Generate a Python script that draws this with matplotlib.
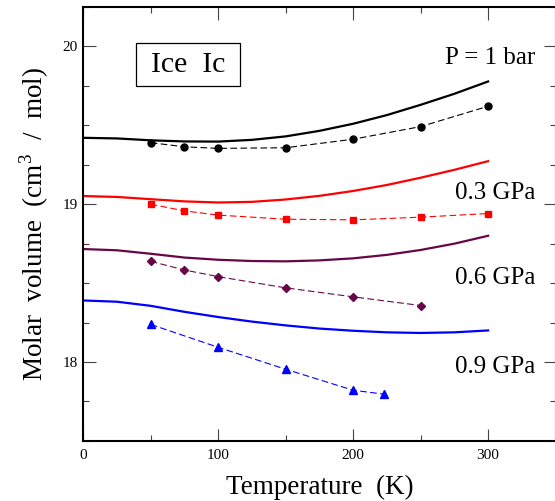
import matplotlib
matplotlib.use("Agg")
import matplotlib.pyplot as plt
import matplotlib.patches as patches
from matplotlib.ticker import MultipleLocator

plt.rcParams['font.family'] = ['Liberation Serif', 'DejaVu Serif']
plt.rcParams['mathtext.fontset'] = 'custom'
plt.rcParams['mathtext.rm'] = 'Liberation Serif'

# solid curves (model), read every 25 K
T_curve = [0, 25, 50, 75, 100, 125, 150, 175, 200, 225, 250, 275, 300]
v_1bar = [19.421, 19.417, 19.405, 19.398, 19.397, 19.408, 19.430, 19.465, 19.510, 19.565, 19.630, 19.700, 19.778]
v_03 = [19.052, 19.046, 19.032, 19.018, 19.011, 19.015, 19.030, 19.053, 19.084, 19.122, 19.168, 19.218, 19.273]
v_06 = [18.716, 18.708, 18.686, 18.662, 18.648, 18.640, 18.638, 18.644, 18.657, 18.679, 18.710, 18.750, 18.800]
v_09 = [18.390, 18.382, 18.356, 18.318, 18.285, 18.256, 18.232, 18.212, 18.198, 18.188, 18.184, 18.188, 18.200]

# dashed series with symbols
T_1bar = [50, 75, 100, 150, 200, 250, 300]
d_1bar = [19.390, 19.364, 19.354, 19.358, 19.412, 19.492, 19.621]
T_03 = [50, 75, 100, 150, 200, 250, 300]
d_03 = [19.000, 18.958, 18.931, 18.905, 18.901, 18.918, 18.941]
T_06 = [50, 75, 100, 150, 200, 250]
d_06 = [18.638, 18.583, 18.541, 18.470, 18.413, 18.358]
T_09 = [50, 100, 150, 200, 223]
d_09 = [18.238, 18.093, 17.954, 17.821, 17.796]

labels = ["P = 1 bar", "0.3 GPa", "0.6 GPa", "0.9 GPa"]
label_y = [19.93, 19.07, 18.53, 17.97]

purple = '#670748'
colors = ['black', 'red', purple, 'blue']
markers = ['o', 's', 'D', '^']
msizes = [5, 4.8, 3.8, 5.2]

fig = plt.figure(figsize=(5.55, 5.01), dpi=100)
ax = fig.add_axes([0.150, 0.120, 0.851, 0.866])

curves = [v_1bar, v_03, v_06, v_09]
sims = [(T_1bar, d_1bar), (T_03, d_03), (T_06, d_06), (T_09, d_09)]
for c, v, (ts, ds), m, ms in zip(colors, curves, sims, markers, msizes):
    ax.plot(T_curve, v, color=c, lw=1.6)
    ax.plot(ts, ds, color=c, lw=0.8, ls=(0, (6, 3)), marker=m, ms=ms, mec=c, mfc=c)

for txt, y in zip(labels, label_y):
    ax.text(335, y, txt, ha='right', va='center', fontsize=18)

# title box
ax.add_patch(patches.Rectangle((39, 19.751), 77, 0.272, fc='white', ec='black', lw=0.9, zorder=3))
ax.text(77.5, 19.884, "Ice  Ic", ha='center', va='center', fontsize=21.5, zorder=4)

ax.set_xlim(0, 350)
ax.set_ylim(17.5, 20.25)
ax.xaxis.set_major_locator(MultipleLocator(100))
ax.xaxis.set_minor_locator(MultipleLocator(50))
ax.yaxis.set_major_locator(MultipleLocator(1))
ax.yaxis.set_minor_locator(MultipleLocator(0.25))
ax.tick_params(which='both', direction='in', top=True, right=True, labelsize=11, width=0.8, color='#444444')
ax.tick_params(which='major', length=9, pad=4)
ax.tick_params(which='minor', length=4.5)
ax.tick_params(axis='x', pad=6)
for s in ax.spines.values():
    s.set_linewidth(1.5)

ax.set_xlabel("Temperature  (K)", fontsize=19.5, labelpad=9)
ax.set_ylabel("Molar  volume  (cm$^3$  /  mol)", fontsize=19.5, labelpad=8)

fig.savefig("out.png", dpi=100)
